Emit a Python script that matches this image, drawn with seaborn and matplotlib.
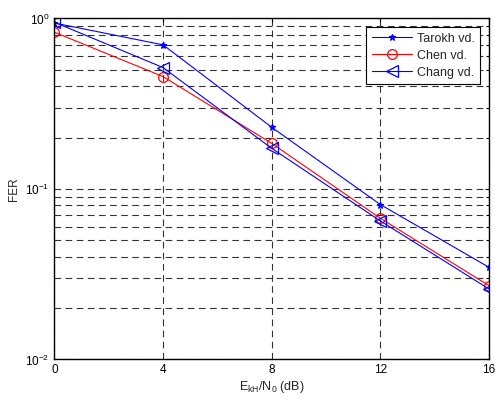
import numpy as np
import pandas as pd
import matplotlib
matplotlib.use("Agg")
import matplotlib.pyplot as plt
import seaborn as sns
from matplotlib.ticker import LogLocator, NullFormatter, FixedLocator

snr = [0, 4, 8, 12, 16]
tarokh = [0.94, 0.70, 0.230, 0.081, 0.0347]
chen = [0.83, 0.456, 0.185, 0.0673, 0.0271]
chang = [0.95, 0.515, 0.173, 0.0649, 0.0259]
series_names = ["Tarokh vd.", "Chen vd.", "Chang vd."]
x_ticks = [0, 4, 8, 12, 16]

sns.set_theme(style="white")
plt.rcParams['font.family'] = ['Liberation Sans', 'DejaVu Sans']
plt.rcParams['mathtext.fontset'] = 'custom'
plt.rcParams['mathtext.rm'] = 'Liberation Sans'
plt.rcParams['mathtext.it'] = 'Liberation Sans'

fig = plt.figure(figsize=(4.95, 4.01), dpi=100)
ax = fig.add_axes([0.110, 0.1035, 0.878, 0.8505])

df = pd.DataFrame({"x": snr * 3,
                   "y": tarokh + chen + chang,
                   "s": [series_names[0]] * 5 + [series_names[1]] * 5 + [series_names[2]] * 5})

styles = {
    series_names[0]: dict(color="#0000ff", marker="*", ms=5, mfc="#0000ff"),
    series_names[1]: dict(color="#ff0000", marker="o", ms=7, mfc="none"),
    series_names[2]: dict(color="#0000ff", marker="<", ms=8, mfc="none"),
}
for name in series_names:
    st = styles[name]
    sub = df[df["s"] == name]
    sns.lineplot(data=sub, x="x", y="y", ax=ax, color=st["color"], marker=st["marker"],
                 markersize=st["ms"], markerfacecolor=st["mfc"], markeredgecolor=st["color"],
                 markeredgewidth=0.9, linewidth=0.8, label=name)

ax.set_yscale("log")
ax.set_ylim(1e-2, 1)
ax.set_xlim(0, 16)
ax.xaxis.set_major_locator(FixedLocator(x_ticks))
ax.set_xticklabels([str(t) for t in x_ticks])
ax.yaxis.set_major_locator(LogLocator(base=10, numticks=10))
ax.yaxis.set_minor_locator(LogLocator(base=10, subs=np.arange(2, 10), numticks=20))
ax.yaxis.set_minor_formatter(NullFormatter())

grid_kw = dict(color="black", linestyle=(0, (6, 4)), linewidth=0.8, alpha=0.8)
ax.grid(True, which="major", axis="both", **grid_kw)
ax.grid(True, which="minor", axis="y", **grid_kw)

ax.tick_params(axis="both", which="both", direction="in", labelsize=8.5, colors="black",
               top=True, right=True, length=3, width=0.8)
ax.tick_params(axis="both", which="minor", length=2)
for sp in ax.spines.values():
    sp.set_color("black")
    sp.set_linewidth(1.0)

ax.set_xlabel(r"E$_{\rm kH}$/N$_{\rm 0}$ (dB)", fontsize=9, labelpad=2)
ax.set_ylabel("FER", fontsize=8.5, labelpad=4)

leg = ax.legend(loc="upper right", fontsize=9, frameon=True, fancybox=False,
                edgecolor="black", framealpha=1, borderaxespad=0.7,
                handlelength=3.2, handletextpad=0.4, labelspacing=0.4, borderpad=0.45)
leg.get_frame().set_linewidth(0.8)

fig.savefig("out.png", dpi=100)
